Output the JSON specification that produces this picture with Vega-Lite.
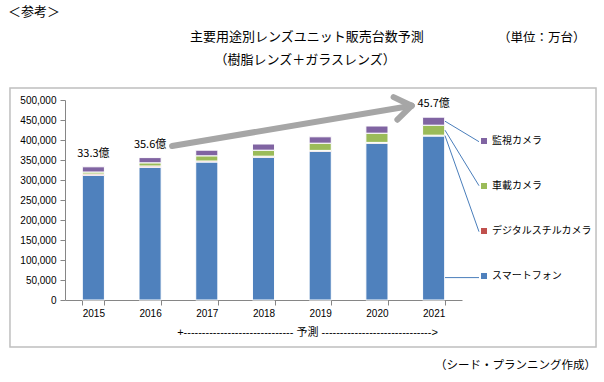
{
  "$schema": "https://vega.github.io/schema/vega-lite/v6.json",
  "width": 397,
  "height": 200,
  "autosize": {"type": "none"},
  "padding": {"left": 65, "top": 100, "right": 142, "bottom": 82},
  "background": "white",
  "datasets": {
    "sales": [
      {"year": "2015", "category": "スマートフォン", "units": 312000},
      {"year": "2015", "category": "デジタルスチルカメラ", "units": 3000},
      {"year": "2015", "category": "車載カメラ", "units": 5000},
      {"year": "2015", "category": "監視カメラ", "units": 13000},
      {"year": "2016", "category": "スマートフォン", "units": 332000},
      {"year": "2016", "category": "デジタルスチルカメラ", "units": 3000},
      {"year": "2016", "category": "車載カメラ", "units": 8000},
      {"year": "2016", "category": "監視カメラ", "units": 13000},
      {"year": "2017", "category": "スマートフォン", "units": 345000},
      {"year": "2017", "category": "デジタルスチルカメラ", "units": 2500},
      {"year": "2017", "category": "車載カメラ", "units": 13000},
      {"year": "2017", "category": "監視カメラ", "units": 14000},
      {"year": "2018", "category": "スマートフォン", "units": 357000},
      {"year": "2018", "category": "デジタルスチルカメラ", "units": 2500},
      {"year": "2018", "category": "車載カメラ", "units": 15000},
      {"year": "2018", "category": "監視カメラ", "units": 15500},
      {"year": "2019", "category": "スマートフォン", "units": 372000},
      {"year": "2019", "category": "デジタルスチルカメラ", "units": 2000},
      {"year": "2019", "category": "車載カメラ", "units": 18000},
      {"year": "2019", "category": "監視カメラ", "units": 16000},
      {"year": "2020", "category": "スマートフォン", "units": 392000},
      {"year": "2020", "category": "デジタルスチルカメラ", "units": 2000},
      {"year": "2020", "category": "車載カメラ", "units": 23000},
      {"year": "2020", "category": "監視カメラ", "units": 18000},
      {"year": "2021", "category": "スマートフォン", "units": 410000},
      {"year": "2021", "category": "デジタルスチルカメラ", "units": 2000},
      {"year": "2021", "category": "車載カメラ", "units": 25000},
      {"year": "2021", "category": "監視カメラ", "units": 20000}
    ],
    "totals": [
      {"year": "2015", "total": 333000, "label": "33.3億"},
      {"year": "2016", "total": 356000, "label": "35.6億"},
      {"year": "2021", "total": 457000, "label": "45.7億"}
    ],
    "arrow": [
      {"x1": 2016.387, "y1": 385000, "x2": 2020.613, "y2": 485750},
      {"x1": 2020.294, "y1": 507250, "x2": 2020.613, "y2": 485750},
      {"x1": 2020.361, "y1": 450750, "x2": 2020.613, "y2": 485750}
    ],
    "leaders": [
      {"category": "監視カメラ", "x1": 2021.2, "y1": 447000, "x2": 2021.8, "y2": 395750},
      {"category": "車載カメラ", "x1": 2021.2, "y1": 424500, "x2": 2021.8, "y2": 285750},
      {"category": "デジタルスチルカメラ", "x1": 2021.2, "y1": 411000, "x2": 2021.8, "y2": 170750},
      {"category": "スマートフォン", "x1": 2021.2, "y1": 56000, "x2": 2021.8, "y2": 56000}
    ],
    "frame": [
      {"x1": 2013.53, "x2": 2023.863, "y1": 530000, "y2": -117500}
    ],
    "noteLeft": [
      {"text": "＜参考＞", "x": 2013.495, "y": 720000}
    ],
    "noteRight": [
      {"text": "（シード・プランニング作成）", "x": 2023.863, "y": -165000}
    ],
    "titles": [
      {"text": "主要用途別レンズユニット販売台数予測", "x": 2018.767, "y": 657500},
      {"text": "（樹脂レンズ＋ガラスレンズ）", "x": 2018.732, "y": 600000}
    ]
  },
  "layer": [
    {
      "data": {"name": "frame"},
      "mark": {"type": "rect", "filled": false, "stroke": "#bfbfbf", "strokeWidth": 1.5},
      "encoding": {
        "x": {"field": "x1", "type": "quantitative", "scale": {"domain": [2014.5, 2021.5], "nice": false, "zero": false}, "axis": null},
        "x2": {"field": "x2"},
        "y": {"field": "y1", "type": "quantitative", "scale": {"domain": [0, 500000], "nice": false}, "axis": null},
        "y2": {"field": "y2"}
      }
    },
    {
      "data": {"name": "sales"},
      "transform": [
        {"calculate": "indexof(['スマートフォン','デジタルスチルカメラ','車載カメラ','監視カメラ'], datum.category)", "as": "stackRank"}
      ],
      "mark": {"type": "bar", "stroke": "white", "strokeWidth": 1},
      "encoding": {
        "x": {
          "field": "year", "type": "ordinal",
          "scale": {"paddingInner": 0.61, "paddingOuter": 0.305},
          "axis": {
            "title": "+------------------------------ 予測 ------------------------------>",
            "titleFont": "Liberation Sans, Noto Sans CJK JP",
            "titleFontSize": 11,
            "titleFontWeight": "normal",
            "titleColor": "#000",
            "titleX": 242,
            "titleY": 32,
            "titleAlign": "center",
            "titleBaseline": "middle",
            "labelAngle": 0,
            "tickBand": "extent",
            "domainColor": "#868686",
            "tickColor": "#868686",
            "tickSize": 5,
            "labelFont": "Liberation Sans",
            "labelFontSize": 10,
            "labelColor": "#000",
            "labelPadding": 3
          }
        },
        "y": {
          "field": "units", "type": "quantitative", "stack": "zero",
          "scale": {"domain": [0, 500000], "nice": false},
          "axis": {
            "title": "（単位：万台）",
            "titleAngle": 0,
            "titleX": 520,
            "titleY": -63,
            "titleAlign": "right",
            "titleBaseline": "middle",
            "titleFont": "Noto Sans CJK JP",
            "titleFontSize": 12.5,
            "titleFontWeight": "normal",
            "titleColor": "#000",
            "values": [0, 50000, 100000, 150000, 200000, 250000, 300000, 350000, 400000, 450000, 500000],
            "format": ",d",
            "labelFont": "Liberation Sans",
            "labelFontSize": 10,
            "labelColor": "#000",
            "labelPadding": 4,
            "domainColor": "#868686",
            "tickColor": "#868686",
            "tickSize": 5,
            "grid": false
          }
        },
        "order": {"field": "stackRank", "type": "quantitative", "sort": "ascending"},
        "color": {
          "field": "category", "type": "nominal",
          "scale": {
            "domain": ["スマートフォン", "デジタルスチルカメラ", "車載カメラ", "監視カメラ"],
            "range": ["#4f81bd", "#c0504d", "#9bbb59", "#8064a2"]
          },
          "legend": {
            "orient": "none",
            "legendX": 414,
            "legendY": 36,
            "title": null,
            "values": ["監視カメラ", "車載カメラ", "デジタルスチルカメラ", "スマートフォン"],
            "symbolType": "square",
            "symbolSize": 36,
            "symbolStrokeWidth": 0,
            "labelFont": "Noto Sans CJK JP",
            "labelFontSize": 10,
            "labelColor": "#000",
            "labelOffset": 3,
            "rowPadding": 35,
            "padding": 0
          }
        }
      }
    },
    {
      "data": {"name": "totals"},
      "mark": {"type": "text", "dy": -13, "font": "Noto Sans CJK JP", "fontSize": 11, "color": "#000", "baseline": "middle"},
      "encoding": {
        "x": {"field": "year", "type": "ordinal", "scale": {"domain": ["2015", "2016", "2017", "2018", "2019", "2020", "2021"], "paddingInner": 0.61, "paddingOuter": 0.305}, "axis": null},
        "y": {"field": "total", "type": "quantitative", "scale": {"domain": [0, 500000], "nice": false}, "axis": null},
        "text": {"field": "label"}
      }
    },
    {
      "data": {"name": "arrow"},
      "mark": {"type": "rule", "strokeWidth": 6, "color": "#a6a6a6", "strokeCap": "round"},
      "encoding": {
        "x": {"field": "x1", "type": "quantitative", "scale": {"domain": [2014.5, 2021.5], "nice": false, "zero": false}, "axis": null},
        "x2": {"field": "x2"},
        "y": {"field": "y1", "type": "quantitative", "scale": {"domain": [0, 500000], "nice": false}, "axis": null},
        "y2": {"field": "y2"}
      }
    },
    {
      "data": {"name": "leaders"},
      "mark": {"type": "rule", "strokeWidth": 1, "color": "#4a7ebb"},
      "encoding": {
        "x": {"field": "x1", "type": "quantitative", "scale": {"domain": [2014.5, 2021.5], "nice": false, "zero": false}, "axis": null},
        "x2": {"field": "x2"},
        "y": {"field": "y1", "type": "quantitative", "scale": {"domain": [0, 500000], "nice": false}, "axis": null},
        "y2": {"field": "y2"}
      }
    },
    {
      "data": {"name": "noteLeft"},
      "mark": {"type": "text", "align": "left", "baseline": "middle", "font": "Noto Sans CJK JP", "fontSize": 13, "color": "#000"},
      "encoding": {
        "x": {"field": "x", "type": "quantitative", "scale": {"domain": [2014.5, 2021.5], "nice": false, "zero": false}, "axis": null},
        "y": {"field": "y", "type": "quantitative", "scale": {"domain": [0, 500000], "nice": false}, "axis": null},
        "text": {"field": "text"}
      }
    },
    {
      "data": {"name": "titles"},
      "mark": {"type": "text", "align": "center", "baseline": "middle", "font": "Noto Sans CJK JP", "fontSize": 13, "color": "#000"},
      "encoding": {
        "x": {"field": "x", "type": "quantitative", "scale": {"domain": [2014.5, 2021.5], "nice": false, "zero": false}, "axis": null},
        "y": {"field": "y", "type": "quantitative", "scale": {"domain": [0, 500000], "nice": false}, "axis": null},
        "text": {"field": "text"}
      }
    },
    {
      "data": {"name": "noteRight"},
      "mark": {"type": "text", "align": "right", "baseline": "middle", "font": "Noto Sans CJK JP", "fontSize": 11.5, "color": "#000"},
      "encoding": {
        "x": {"field": "x", "type": "quantitative", "scale": {"domain": [2014.5, 2021.5], "nice": false, "zero": false}, "axis": null},
        "y": {"field": "y", "type": "quantitative", "scale": {"domain": [0, 500000], "nice": false}, "axis": null},
        "text": {"field": "text"}
      }
    }
  ],
  "resolve": {"scale": {"x": "independent", "y": "independent"}},
  "config": {
    "view": {"stroke": null},
    "font": "Noto Sans CJK JP"
  }
}
